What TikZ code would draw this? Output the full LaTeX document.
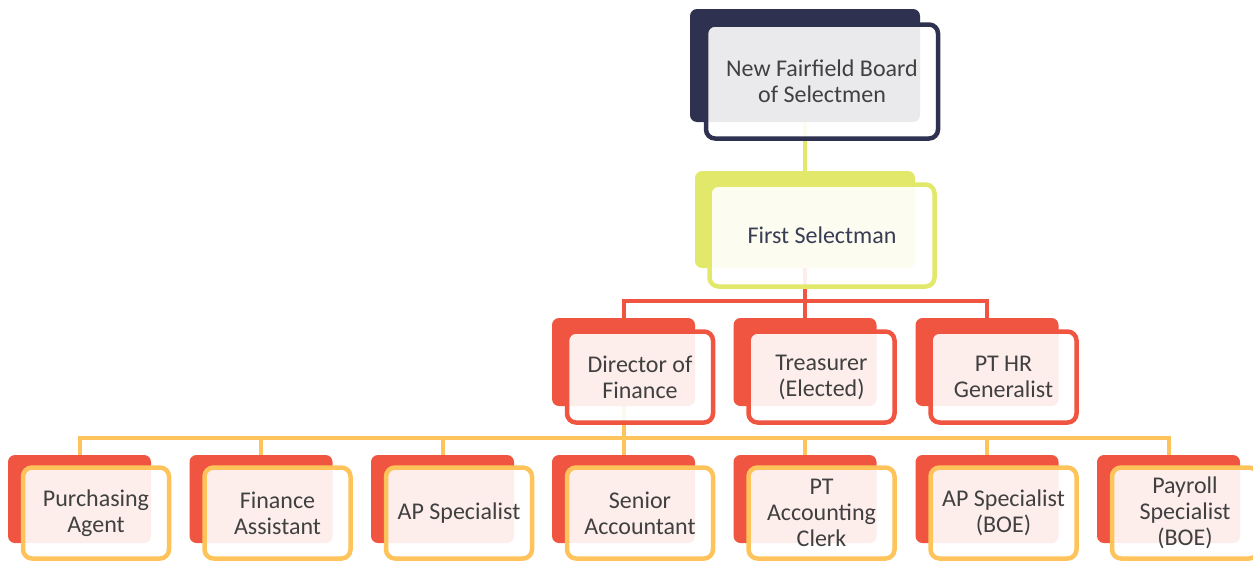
\documentclass[tikz,border=0pt]{standalone}
\usepackage{fontspec}
\setmainfont{Carlito}
\usepackage{xcolor}
\usepackage{tikz}
\usetikzlibrary{positioning}
\usetikzlibrary{backgrounds}

\definecolor{navy}{HTML}{2E3250}
\definecolor{lime}{HTML}{E2E86A}
\definecolor{tomato}{HTML}{EF5540}
\definecolor{amber}{HTML}{FEC35A}
\definecolor{ink}{HTML}{404040}
\definecolor{slateink}{HTML}{383C54}

\begin{document}
\begin{tikzpicture}[x=1pt, y=-1pt,
        back/.style={rectangle, rounded corners=7pt, inner sep=0pt,
            minimum width=143pt, minimum height=88pt},
        front/.style={rectangle, rounded corners=9pt, line width=4.5pt,
            fill=white, fill opacity=0.9, text opacity=1, inner sep=0pt,
            minimum width=146pt, minimum height=91pt, align=center,
            text=ink, font=\fontsize{24}{26}\selectfont},
        link/.style={line width=4pt}]
        \useasboundingbox (0, 0) rectangle (1253, 560);

        % board and first selectman
        \node[back, fill=navy, minimum width=230pt, minimum height=113pt] (boardB) at (805, 65.5) {};
        \node[front, draw=navy, minimum width=232pt, minimum height=114pt] (board)
            at ([shift={(17, 16)}]boardB.center) {New Fairfield Board\\of Selectmen};

        \node[back, fill=lime, minimum width=220pt, minimum height=97pt] (firstB) at (805, 219.5) {};
        \node[front, draw=lime, minimum width=225pt, minimum height=102pt, text=slateink] (first)
            at ([shift={(17, 16)}]firstB.center) {First Selectman};

        % second row
        \node[back, fill=tomato] (dirB) at (623.5, 362) {};
        \node[front, draw=tomato] (dir) at ([shift={(16.5, 15)}]dirB.center) {Director of\\Finance};
        \node[back, fill=tomato] (treasB) at (805, 362) {};
        \node[front, draw=tomato] (treas) at ([shift={(16.5, 15)}]treasB.center) {Treasurer\\(Elected)};
        \node[back, fill=tomato] (hrB) at (987, 362) {};
        \node[front, draw=tomato] (hr) at ([shift={(16.5, 15)}]hrB.center) {PT HR\\Generalist};

        % third row
        \node[back, fill=tomato] (purchB) at (79.5, 499) {};
        \node[front, draw=amber] (purch) at ([shift={(16.5, 14)}]purchB.center) {Purchasing\\Agent};
        \node[back, fill=tomato] (finasstB) at (261, 499) {};
        \node[front, draw=amber] (finasst) at ([shift={(16.5, 14)}]finasstB.center) {Finance\\Assistant};
        \node[back, fill=tomato] (apspecB) at (442.5, 499) {};
        \node[front, draw=amber] (apspec) at ([shift={(16.5, 14)}]apspecB.center) {AP Specialist};
        \node[back, fill=tomato] (senacctB) at (623.5, 499) {};
        \node[front, draw=amber] (senacct) at ([shift={(16.5, 14)}]senacctB.center) {Senior\\Accountant};
        \node[back, fill=tomato] (clerkB) at (805, 499) {};
        \node[front, draw=amber] (clerk) at ([shift={(16.5, 14)}]clerkB.center) {PT\\Accounting\\Clerk};
        \node[back, fill=tomato] (apboeB) at (987, 499) {};
        \node[front, draw=amber] (apboe) at ([shift={(16.5, 14)}]apboeB.center) {AP Specialist\\(BOE)};
        \node[back, fill=tomato] (payboeB) at (1168.5, 499) {};
        \node[front, draw=amber] (payboe) at ([shift={(16.5, 14)}]payboeB.center) {Payroll\\Specialist\\(BOE)};

        % connectors
        \begin{scope}[on background layer]
            \coordinate (redbus) at (805, 301);
            \coordinate (amberbus) at (623.5, 438);

            \draw[link, lime] (boardB.south) -- (firstB.north);

            \draw[link, tomato] (firstB.south) -- (treasB.north);
            \draw[link, tomato] (dirB.north) |- (redbus) -| (hrB.north);

            \draw[link, amber] (dirB.south) -- (senacctB.north);
            \draw[link, amber] (purchB.north) |- (amberbus) -| (payboeB.north);
            \foreach \n in {finasstB, apspecB, clerkB, apboeB}
                \draw[link, amber] (\n.north) -- (\n.north |- amberbus);
        \end{scope}
    \end{tikzpicture}
\end{document}
